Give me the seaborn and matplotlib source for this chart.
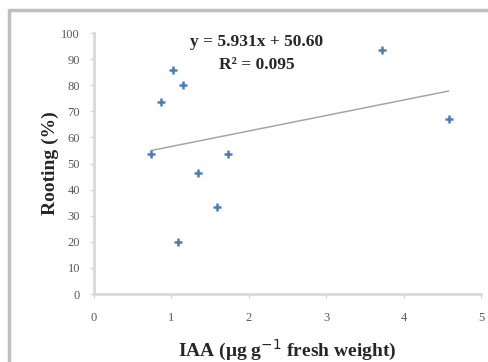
import numpy as np
import pandas as pd
import matplotlib
matplotlib.use("Agg")
import matplotlib.pyplot as plt
import seaborn as sns
from matplotlib.lines import Line2D

# data
iaa = [1.02, 1.15, 0.86, 0.74, 1.73, 1.35, 1.59, 1.08, 3.72, 4.58]
rooting = [86, 80, 73.5, 53.5, 53.5, 46.5, 33.5, 20, 93.5, 67]
slope = 5.931
intercept = 50.60
r2 = 0.095
x_ticks = [0, 1, 2, 3, 4, 5]
y_ticks = [0, 10, 20, 30, 40, 50, 60, 70, 80, 90, 100]

df = pd.DataFrame({"IAA": iaa, "Rooting": rooting})

sns.set_theme(style="white")
plt.rcParams['font.family'] = ['Liberation Serif', 'DejaVu Serif']

fig = plt.figure(figsize=(4.88, 3.62), dpi=100)
ax = fig.add_axes([0.1926, 0.1878, 0.7931, 0.721])

# trend line from the fitted equation
xs = np.array([min(iaa), max(iaa)])
ax.plot(xs, slope * xs + intercept, color='#a6a6a6', lw=1.1, zorder=1)

sns.scatterplot(data=df, x="IAA", y="Rooting", marker="+", s=30,
                linewidth=1.8, color='#4a7ebb', ax=ax, zorder=2)

ax.text(2.1, 96.5, "y = 5.931x + 50.60", ha='center', va='center',
        fontsize=12.5, fontweight='bold')
ax.text(2.1, 87.7, "R² = 0.095", ha='center', va='center',
        fontsize=12.5, fontweight='bold')

ax.set_xlim(0, 5)
ax.set_ylim(0, 100)
ax.set_xticks(x_ticks)
ax.set_yticks(y_ticks)
ax.tick_params(axis='both', labelsize=9, colors='#d9d9d9', labelcolor='#595959',
               length=3, width=1, direction='out', left=True, bottom=True)
ax.tick_params(axis='x', pad=10)
ax.tick_params(axis='y', pad=7)

for side in ['top', 'right']:
    ax.spines[side].set_visible(False)
for side in ['left', 'bottom']:
    ax.spines[side].set_color('#d9d9d9')
    ax.spines[side].set_linewidth(2)

ax.set_xlabel("IAA (μg g$^{-1}$ fresh weight)", fontsize=14, fontweight='bold', labelpad=10)
ax.set_ylabel("Rooting (%)", fontsize=14, fontweight='bold', labelpad=2)

# outer chart border (top and left visible)
fig.add_artist(Line2D([9 / 488, 9 / 488], [0, 1 - 10 / 362], color='#bfbfbf', lw=2.5,
                      transform=fig.transFigure))
fig.add_artist(Line2D([9 / 488, 1], [1 - 10 / 362, 1 - 10 / 362], color='#bfbfbf', lw=2.5,
                      transform=fig.transFigure))

fig.savefig("out.png", dpi=100)
